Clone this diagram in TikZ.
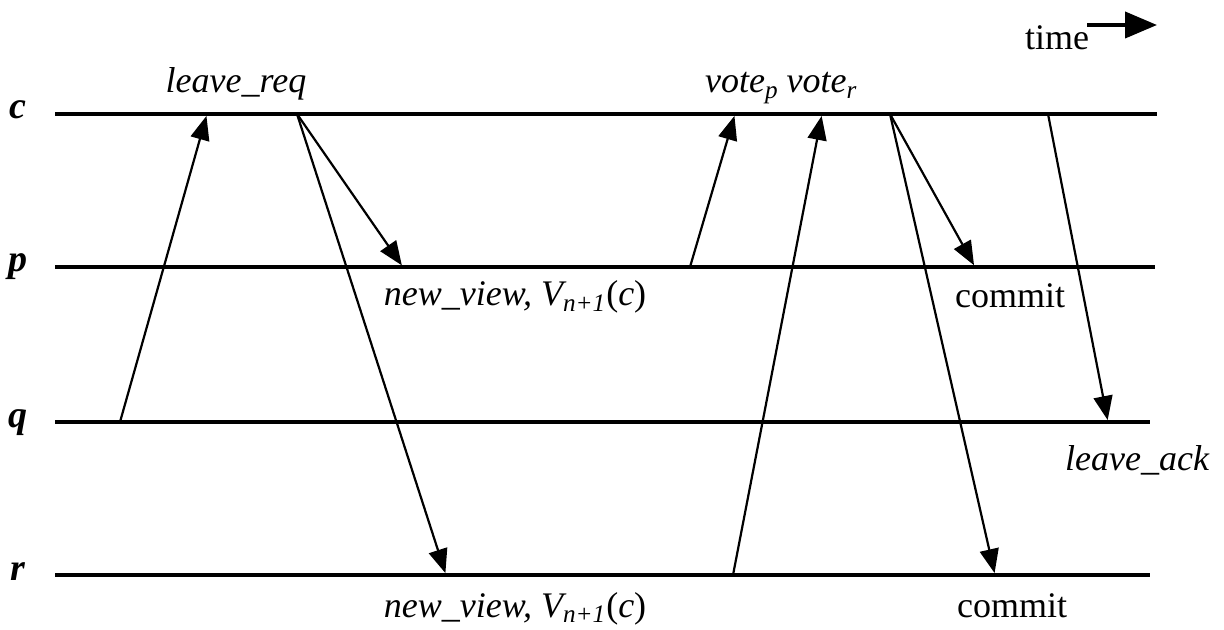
\documentclass[tikz,border=0pt]{standalone}
\usepackage{fontspec}
\setmainfont{Liberation Serif}
\usetikzlibrary{arrows.meta}
\tikzset{
	proc/.style={line width=2pt},
	msg/.style={-{Triangle[length=12pt, width=9.5pt]}, line width=1.1pt, shorten >=1pt},
	lbl/.style={font=\fontsize{18}{20}\selectfont\itshape, inner sep=0pt, anchor=base},
	txt/.style={font=\fontsize{18}{20}\selectfont, inner sep=0pt, anchor=base},
	pname/.style={font=\fontsize{19}{20}\selectfont\bfseries\itshape, inner sep=0pt, anchor=base}
}

\begin{document}
\begin{tikzpicture}[x=0.5pt, y=-0.5pt]
	\useasboundingbox (0,0) rectangle (1224,630);
	% process lines
	\foreach \n/\y/\e in {c/114/1157, p/267/1155, q/422/1150, r/575/1150} {
		\node[pname] (\n) at (18,{\y+5}) {\n};
		\coordinate (\n-start) at (55,\y);
		\coordinate (\n-end) at (\e,\y);
		\draw[proc] (\n-start) -- (\n-end);
	}
	% message end points
	\coordinate (q-a) at (120,422);
	\coordinate (c-a) at (207,114);
	\coordinate (c-b) at (297,114);
	\coordinate (p-b) at (403,267);
	\coordinate (r-b) at (446,575);
	\coordinate (p-d) at (690,267);
	\coordinate (c-d) at (735,114);
	\coordinate (r-e) at (733,575);
	\coordinate (c-e) at (822,114);
	\coordinate (c-f) at (890,114);
	\coordinate (p-f) at (975,267);
	\coordinate (r-f) at (995,575);
	\coordinate (c-g) at (1048,114);
	\coordinate (q-g) at (1108,422);
	% messages
	\draw[msg] (q-a) -- (c-a);
	\draw[msg] (c-b) -- (p-b);
	\draw[msg] (c-b) -- (r-b);
	\draw[msg] (p-d) -- (c-d);
	\draw[msg] (r-e) -- (c-e);
	\draw[msg] (c-f) -- (p-f);
	\draw[msg] (c-f) -- (r-f);
	\draw[msg] (c-g) -- (q-g);
	% labels
	\node[lbl] (req) at (236,93) {leave\_req};
	\node[lbl] (votep) at (742,93) {vote\textsubscript{p}};
	\node[lbl] (voter) at (822,93) {vote\textsubscript{r}};
	\node[lbl] (viewp) at (515,306) {new\_view, V\textsubscript{n+1}\textup{(}c\textup{)}};
	\node[lbl] (viewr) at (515,617) {new\_view, V\textsubscript{n+1}\textup{(}c\textup{)}};
	\node[txt] (commitp) at (1010,307) {commit};
	\node[txt] (commitr) at (1012,617) {commit};
	\node[lbl] (ack) at (1137,470) {leave\_ack};
	% time axis
	\node[txt] (time) at (1057,50) {time};
	\coordinate (time-s) at (1087,25);
	\coordinate (time-e) at (1157,25);
	\draw[-{Triangle[length=16pt, width=13pt]}, line width=2pt] (time-s) -- (time-e);
\end{tikzpicture}
\end{document}
